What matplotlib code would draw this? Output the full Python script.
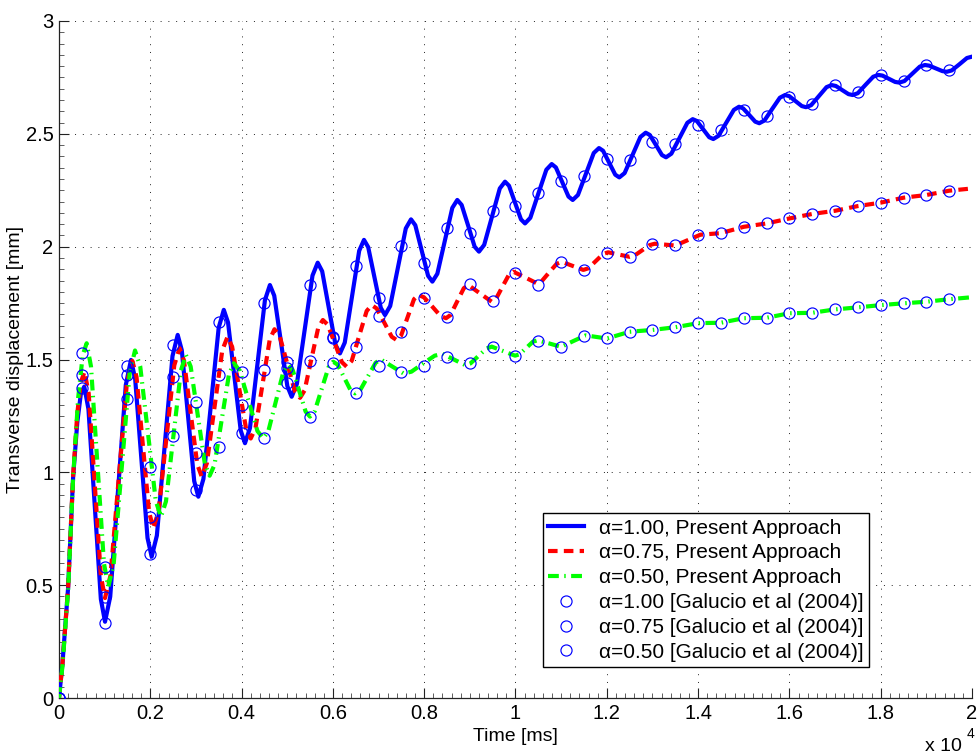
import matplotlib
matplotlib.use("Agg")
import matplotlib.pyplot as plt
from matplotlib.ticker import MultipleLocator, FixedLocator, FixedFormatter

plt.rcParams['font.family'] = ['Liberation Sans', 'DejaVu Sans']

# ---------------- data ----------------
# alpha = 1.00, present approach
t_a100 = [0, 75, 200, 310, 400, 480, 554, 645, 781, 917, 1008, 1122, 1293, 1463, 1577,
          1668, 1804, 1939, 2030, 2144, 2315, 2486, 2600, 2690, 2826, 2962, 3052,
          3164, 3331, 3498, 3610, 3703, 3842, 3981, 4074, 4183, 4347, 4511, 4620,
          4715, 4859, 5002, 5097, 5211, 5382, 5553, 5667, 5765, 5911, 6057, 6155,
          6260, 6418, 6576, 6681, 6773, 6911, 7049, 7141, 7255, 7426, 7597, 7711,
          7805, 7945, 8085, 8179, 8288, 8452, 8616, 8725, 8820, 8963, 9105, 9200,
          9314, 9485, 9656, 9770, 9858, 9989, 10120, 10208, 10325, 10500, 10676, 10793,
          10885, 11023, 11161, 11253, 11368, 11541, 11714, 11829, 11918, 12052, 12185, 12274,
          12390, 12563, 12736, 12852, 12941, 13075, 13208, 13297, 13414, 13590, 13765, 13882,
          13972, 14108, 14243, 14333, 14446, 14615, 14783, 14896, 14985, 15118, 15251, 15340,
          15453, 15622, 15791, 15904, 15996, 16134, 16272, 16364, 16476, 16645, 16814, 16926,
          17018, 17156, 17294, 17386, 17498, 17667, 17836, 17948, 18040, 18178, 18316, 18408,
          18520, 18689, 18858, 18970, 19065, 19208, 19351, 19446, 19557, 19723, 19889, 20000]
y_a100 = [0, 0.15, 0.49, 0.98, 1.22, 1.35, 1.38, 1.280, 0.859, 0.438, 0.338, 0.449, 0.918, 1.387, 1.498,
          1.415, 1.062, 0.709, 0.626, 0.720, 1.118, 1.515, 1.609, 1.541, 1.251, 0.961, 0.892,
          0.971, 1.306, 1.641, 1.720, 1.664, 1.425, 1.185, 1.129, 1.196, 1.480, 1.763, 1.830,
          1.783, 1.583, 1.382, 1.335, 1.392, 1.632, 1.872, 1.929, 1.891, 1.728, 1.565, 1.527,
          1.575, 1.779, 1.982, 2.030, 1.998, 1.864, 1.729, 1.697, 1.737, 1.909, 2.081, 2.121,
          2.095, 1.983, 1.871, 1.845, 1.880, 2.026, 2.172, 2.207, 2.185, 2.093, 2.000, 1.978,
          2.008, 2.133, 2.258, 2.288, 2.270, 2.196, 2.121, 2.103, 2.128, 2.235, 2.341, 2.366,
          2.351, 2.287, 2.222, 2.207, 2.229, 2.322, 2.415, 2.437, 2.425, 2.372, 2.319, 2.307,
          2.326, 2.406, 2.486, 2.505, 2.495, 2.451, 2.406, 2.396, 2.412, 2.481, 2.549, 2.565,
          2.557, 2.521, 2.485, 2.477, 2.491, 2.549, 2.606, 2.620, 2.613, 2.584, 2.554, 2.547,
          2.559, 2.610, 2.660, 2.672, 2.667, 2.645, 2.623, 2.618, 2.627, 2.667, 2.707, 2.716,
          2.712, 2.694, 2.676, 2.672, 2.680, 2.717, 2.753, 2.761, 2.758, 2.744, 2.730, 2.727,
          2.734, 2.766, 2.798, 2.805, 2.802, 2.790, 2.778, 2.775, 2.781, 2.808, 2.836, 2.842]

# alpha = 0.75, present approach
t_a075 = [0, 75, 200, 310, 400, 480, 560, 650, 784, 918, 1008, 1128, 1307, 1486, 1606,
          1698, 1836, 1974, 2066, 2181, 2353, 2525, 2640, 2737, 2883, 3029, 3126,
          3239, 3408, 3577, 3690, 3792, 3945, 4098, 4200, 4304, 4460, 4616, 4720,
          4832, 5000, 5168, 5280, 5380, 5530, 5680, 5780, 5884, 6041, 6198, 6302,
          6412, 6576, 6740, 6850, 6959, 7124, 7288, 7397, 7492, 7634, 7776, 7871,
          7992, 8175, 8357, 8478, 8576, 8722, 8868, 8966, 9222, 9478, 9573, 9715, 9857, 9952,
          10208, 10464, 10574, 10738, 10902, 11012, 11248, 11485, 11594, 11758, 11921, 12030,
          12265, 12500, 12610, 12775, 12940, 13050, 13275, 13500, 13775, 14050, 14500, 15000,
          15500, 16000, 16500, 17000, 17500, 18000, 18500, 19000, 19500, 20000]
y_a075 = [0, 0.15, 0.49, 0.99, 1.26, 1.40, 1.446, 1.350, 0.945, 0.539, 0.443, 0.543, 0.969, 1.394, 1.494,
          1.423, 1.123, 0.823, 0.752, 0.828, 1.151, 1.474, 1.550, 1.496, 1.266, 1.035, 0.981,
          1.040, 1.291, 1.541, 1.600, 1.557, 1.375, 1.193, 1.150, 1.196, 1.392, 1.588, 1.634,
          1.605, 1.482, 1.359, 1.330, 1.363, 1.503, 1.642, 1.675, 1.655, 1.572, 1.488, 1.468,
          1.494, 1.605, 1.715, 1.741, 1.726, 1.664, 1.601, 1.586, 1.605, 1.686, 1.767, 1.786,
          1.776, 1.735, 1.693, 1.683, 1.697, 1.757, 1.816, 1.830, 1.793, 1.756, 1.769, 1.823, 1.876, 1.889,
          1.864, 1.838, 1.847, 1.886, 1.924, 1.933, 1.915, 1.897, 1.904, 1.936, 1.968, 1.975,
          1.965, 1.955, 1.961, 1.984, 2.007, 2.013, 2.009, 2.005, 2.029, 2.053, 2.060, 2.088,
          2.103, 2.125, 2.145, 2.159, 2.180, 2.195, 2.217, 2.229, 2.248, 2.258]

# alpha = 0.50, present approach
t_a050 = [0, 75, 200, 310, 420, 520, 606, 701, 843, 985, 1080, 1197, 1373, 1548, 1665,
          1779, 1950, 2120, 2234, 2343, 2507, 2671, 2780, 2884, 3040, 3196, 3300,
          3406, 3565, 3724, 3830, 3959, 4153, 4347, 4476, 4585, 4750, 4914, 5023,
          5118, 5261, 5403, 5498, 5600, 5754, 5907, 6009, 6104, 6247, 6389, 6484,
          6597, 6767, 6937, 7050, 7300, 7550, 7720, 7975, 8230, 8400, 8650, 8900,
          9016, 9190, 9364, 9480, 9735, 9990, 10088, 10235, 10382, 10480, 10740, 11000,
          11270, 11540, 11770, 12000, 12500, 13000, 13500, 14000, 14500, 15000, 15500,
          16000, 16500, 17000, 17500, 18000, 18500, 19000, 19500, 20000]
y_a050 = [0, 0.14, 0.48, 0.98, 1.33, 1.52, 1.572, 1.469, 1.033, 0.596, 0.493, 0.593, 1.017, 1.440, 1.540,
          1.470, 1.172, 0.873, 0.803, 0.871, 1.162, 1.452, 1.520, 1.469, 1.253, 1.036, 0.985,
          1.033, 1.234, 1.435, 1.483, 1.451, 1.317, 1.183, 1.151, 1.182, 1.314, 1.445, 1.476,
          1.454, 1.362, 1.269, 1.247, 1.270, 1.369, 1.467, 1.490, 1.477, 1.420, 1.363, 1.350,
          1.364, 1.425, 1.486, 1.500, 1.469, 1.438, 1.446, 1.482, 1.517, 1.525, 1.500, 1.475,
          1.483, 1.516, 1.549, 1.557, 1.537, 1.517, 1.523, 1.551, 1.579, 1.585, 1.571, 1.556,
          1.582, 1.607, 1.600, 1.593, 1.623, 1.631, 1.643, 1.661, 1.663, 1.683, 1.685,
          1.705, 1.707, 1.722, 1.731, 1.741, 1.749, 1.756, 1.767, 1.776]

# Galucio et al (2004) reference points (every 500)
t_ref = [0, 500, 1000, 1500, 2000, 2500, 3000, 3500, 4000, 4500, 5000, 5500, 6000, 6500,
         7000, 7500, 8000, 8500, 9000, 9500, 10000, 10500, 11000, 11500, 12000, 12500,
         13000, 13500, 14000, 14500, 15000, 15500, 16000, 16500, 17000, 17500, 18000,
         18500, 19000, 19500]
ref_a100 = [0, 1.372, 0.334, 1.471, 0.638, 1.564, 0.922, 1.665, 1.173, 1.749, 1.394, 1.830,
            1.594, 1.914, 1.771, 2.003, 1.929, 2.081, 2.062, 2.159, 2.182, 2.239, 2.291, 2.315,
            2.387, 2.384, 2.465, 2.453, 2.539, 2.517, 2.606, 2.579, 2.665, 2.632, 2.716,
            2.687, 2.761, 2.734, 2.805, 2.783]
ref_a075 = [0, 1.430, 0.449, 1.431, 0.803, 1.424, 1.084, 1.431, 1.298, 1.453, 1.490, 1.495,
            1.600, 1.554, 1.693, 1.623, 1.771, 1.690, 1.835, 1.761, 1.885, 1.830, 1.930, 1.897,
            1.973, 1.956, 2.012, 2.007, 2.052, 2.060, 2.088, 2.103, 2.125, 2.145, 2.159,
            2.180, 2.195, 2.217, 2.229, 2.248]
ref_a050 = [0, 1.530, 0.582, 1.324, 1.025, 1.161, 1.313, 1.111, 1.446, 1.151, 1.464, 1.247,
            1.486, 1.350, 1.470, 1.446, 1.471, 1.510, 1.486, 1.554, 1.517, 1.583, 1.557, 1.604,
            1.594, 1.623, 1.631, 1.643, 1.661, 1.663, 1.683, 1.685, 1.705, 1.707, 1.722,
            1.731, 1.741, 1.749, 1.756, 1.767]

x_ticks = [0, 2000, 4000, 6000, 8000, 10000, 12000, 14000, 16000, 18000, 20000]
x_ticklabels = ['0', '0.2', '0.4', '0.6', '0.8', '1', '1.2', '1.4', '1.6', '1.8', '2']
y_ticks = [0, 0.5, 1.0, 1.5, 2.0, 2.5, 3.0]
y_ticklabels = ['0', '0.5', '1', '1.5', '2', '2.5', '3']

labels = ['\u03b1=1.00, Present Approach',
          '\u03b1=0.75, Present Approach',
          '\u03b1=0.50, Present Approach',
          '\u03b1=1.00 [Galucio et al (2004)]',
          '\u03b1=0.75 [Galucio et al (2004)]',
          '\u03b1=0.50 [Galucio et al (2004)]']

# ---------------- figure ----------------
fig = plt.figure(figsize=(9.78, 7.56), dpi=100)
ax = fig.add_axes([59/978, 58/756, 913/978, 677/756])

lw = 3.0
ax.plot(t_a100, y_a100, color=(0, 0, 1), lw=lw, solid_joinstyle='round',
        label=labels[0], zorder=3)
ax.plot(t_a075, y_a075, color=(1, 0, 0), lw=lw, dashes=(2.3, 1.5),
        dash_joinstyle='round', label=labels[1], zorder=4)
ax.plot(t_a050, y_a050, color=(0, 1, 0), lw=lw, dashes=(2.6, 1.3, 0.35, 1.3),
        dash_joinstyle='round', label=labels[2], zorder=5)
mk = dict(ls='none', marker='o', ms=8, mfc='none', mec=(0, 0, 1), mew=0.85, zorder=6)
ax.plot(t_ref, ref_a100, label=labels[3], **mk)
ax.plot(t_ref, ref_a075, label=labels[4], **mk)
ax.plot(t_ref, ref_a050, label=labels[5], **mk)

ax.set_xlim(0, 20000)
ax.set_ylim(0, 3)
ax.xaxis.set_major_locator(FixedLocator(x_ticks))
ax.xaxis.set_major_formatter(FixedFormatter(x_ticklabels))
ax.yaxis.set_major_locator(FixedLocator(y_ticks))
ax.yaxis.set_major_formatter(FixedFormatter(y_ticklabels))
ax.xaxis.set_minor_locator(MultipleLocator(200))
ax.yaxis.set_minor_locator(MultipleLocator(0.05))

for s in ['top', 'right']:
    ax.spines[s].set_visible(False)
for s in ['left', 'bottom']:
    ax.spines[s].set_linewidth(0.9)
    ax.spines[s].set_color('#222222')

ax.tick_params(which='major', direction='in', length=7, width=0.8, colors='#222222',
               labelsize=14.5, labelcolor='black')
ax.tick_params(which='minor', direction='in', length=3.5, width=0.6, colors='#444444')
ax.tick_params(axis='x', which='major', pad=4.5)
ax.tick_params(axis='y', which='major', pad=4)

ax.grid(True, which='major', color='#222222', lw=0.7, linestyle=(0, (1, 7)))
ax.set_axisbelow(True)

ax.set_xlabel('Time [ms]', fontsize=14)
ax.xaxis.set_label_coords(0.5, -0.045)
ax.set_ylabel('Transverse displacement [mm]', fontsize=14)
ax.yaxis.set_label_coords(-0.0385, 0.5)

fig.text(925/978, 1 - 755/756, 'x 10', fontsize=14, ha='left', va='bottom')
fig.text(967/978, 1 - 741/756, '4', fontsize=10, ha='left', va='bottom')

leg = ax.legend(loc='lower left', bbox_to_anchor=(0.530, 0.0458), borderaxespad=0,
                fontsize=15, labelspacing=0.28, borderpad=0.25, handlelength=1.7,
                handletextpad=0.75, fancybox=False, framealpha=1, edgecolor='black',
                numpoints=1)
leg.get_frame().set_linewidth(1.0)

fig.savefig('out.png', dpi=100)
